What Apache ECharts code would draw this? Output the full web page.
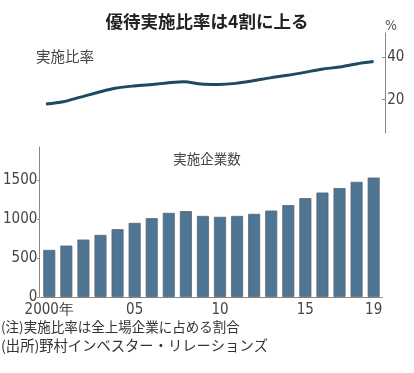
<!DOCTYPE html>
<html><head><meta charset="utf-8">
<script src="https://cdn.jsdelivr.net/npm/echarts@6/dist/echarts.min.js"></script>
<style>html,body{margin:0;padding:0;background:#fff}#c{width:414px;height:373px}</style>
</head><body><div id="c"></div>
<script>
var years = ['2000年','01','02','03','04','05','06','07','08','09','10','11','12','13','14','15','16','17','18','19'];
var shownYears = ['2000年','05','10','15','19'];
var ratio = [17.9,19.0,21.2,23.4,25.4,26.4,27.1,27.9,28.5,27.4,27.2,27.7,28.9,30.3,31.5,32.9,34.4,35.4,36.9,38.0];
var companies = [603,658,735,795,868,949,1009,1077,1099,1038,1026,1038,1064,1106,1176,1265,1337,1394,1474,1529];
var ratioTicks = [20,40];
var countTicks = [0,500,1000,1500];

var numFont = '"Liberation Sans Narrow","Arial Narrow","DejaVu Sans Condensed",sans-serif';
var jpFont = '"Noto Sans CJK JP",sans-serif';
var chart = echarts.init(document.getElementById('c'));
chart.setOption({
  animation:false,
  backgroundColor:'#fff',
  title:[
    {text:'優待実施比率は4割に上る',left:'center',top:8,textStyle:{fontFamily:jpFont,fontSize:17.5,fontWeight:'bold',color:'#222'}},
    {text:'実施比率',left:31,top:44,textStyle:{fontFamily:jpFont,fontSize:14.5,fontWeight:'normal',color:'#444'}},
    {text:'実施企業数',left:'center',top:147,textStyle:{fontFamily:jpFont,fontSize:13.5,fontWeight:'normal',color:'#444'}}
  ],
  graphic:[
    {type:'text',left:385,top:19,style:{text:'%',font:'14px '+numFont,fill:'#555'}},
    {type:'text',left:1,top:320,style:{text:'(注)実施比率は全上場企業に占める割合',font:'13.5px '+jpFont,fill:'#333'}},
    {type:'text',left:1,top:338,style:{text:'(出所)野村インベスター・リレーションズ',font:'14.3px '+jpFont,fill:'#333'}}
  ],
  grid:[
    {left:37.4,right:414-382.2,top:33,height:100},
    {left:37.4,right:414-382.2,top:147,bottom:76}
  ],
  xAxis:[
    {type:'category',gridIndex:0,data:years,show:false,boundaryGap:true},
    {type:'category',gridIndex:1,data:years,boundaryGap:true,
     axisLine:{lineStyle:{color:'#888',width:1}},axisTick:{show:false},
     axisLabel:{interval:0,color:'#444',fontFamily:numFont,fontSize:15,margin:6,
       formatter:function(v){return shownYears.indexOf(v)>=0?v:'';}}}
  ],
  yAxis:[
    {type:'value',gridIndex:0,position:'right',offset:3,min:4.25,max:51.5,
     axisLine:{show:true,lineStyle:{color:'#888'}},
     axisTick:{show:true,inside:true,length:3,customValues:ratioTicks,lineStyle:{color:'#888'}},
     axisLabel:{customValues:ratioTicks,color:'#444',fontFamily:numFont,fontSize:15,margin:2},
     splitLine:{show:false}},
    {type:'value',gridIndex:1,position:'left',min:0,max:1920,offset:1.4,
     axisLine:{show:true,lineStyle:{color:'#888'}},
     axisTick:{show:true,length:2,customValues:countTicks,lineStyle:{color:'#888'}},
     axisLabel:{customValues:countTicks,color:'#444',fontFamily:numFont,fontSize:15,margin:2,
       formatter:function(v){return String(v);}},
     splitLine:{show:false}}
  ],
  series:[
    {type:'line',xAxisIndex:0,yAxisIndex:0,data:ratio,symbol:'none',smooth:0.3,
     lineStyle:{color:'#1d4a60',width:3}},
    {type:'bar',xAxisIndex:1,yAxisIndex:1,data:companies,barWidth:12,
     itemStyle:{color:'#4f7594',borderColor:'#5a6470',borderWidth:0.8}}
  ]
});
</script></body></html>
